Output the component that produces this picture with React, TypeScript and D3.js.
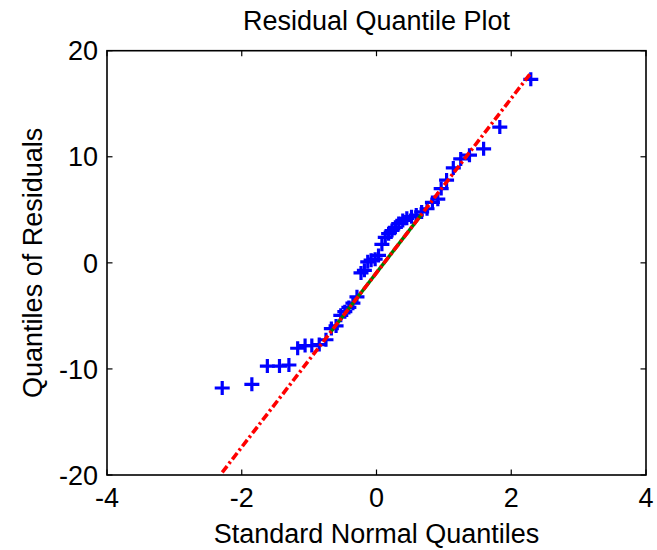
import React from "react";
import * as d3 from "d3";

// Standard normal quantiles (x) and residual quantiles (y)
const normalQuantiles = [
  -2.29, -1.85, -1.62, -1.44, -1.30, -1.17, -1.06, -0.96, -0.85, -0.75,
  -0.67, -0.60, -0.53, -0.47, -0.41, -0.35, -0.29, -0.23, -0.18, -0.13,
  -0.08, -0.02, 0.03, 0.08, 0.13, 0.18, 0.23, 0.28, 0.33, 0.39,
  0.45, 0.52, 0.59, 0.67, 0.75, 0.83, 0.91, 0.96, 1.04, 1.14,
  1.25, 1.38, 1.59, 1.83, 2.29,
];
const residualQuantiles = [
  -11.8, -11.45, -9.73, -9.73, -9.63, -8.05, -7.8, -7.8, -7.7, -7.25,
  -6.2, -5.95, -4.95, -4.6, -4.2, -3.8, -3.2, -0.95, -0.7, 0.1,
  0.25, 0.35, 0.7, 1.75, 2.4, 2.75, 3.05, 3.35, 3.7, 4.0,
  4.2, 4.35, 4.5, 4.8, 5.1, 5.7, 6.0, 7.0, 7.8, 8.95,
  9.8, 10.15, 10.75, 12.8, 17.3,
];
// Reference line through the first and third quartiles
const quartileX = [-0.674, 0.674];
const quartileY = [-6.47, 4.61];
const extendX = [-2.29, 2.29];

const xTicks = [-4, -2, 0, 2, 4];
const yTicks = [-20, -10, 0, 10, 20];

const W = 657;
const H = 550;
const left = 107;
const right = 646;
const top = 50.7;
const bottom = 475;
const FONT = "'Liberation Sans', Arial, Helvetica, sans-serif";
const FS = 27;

export default function App() {
  const x = d3.scaleLinear().domain([-4, 4]).range([left, right]);
  const y = d3.scaleLinear().domain([-20, 20]).range([bottom, top]);

  const slope = (quartileY[1] - quartileY[0]) / (quartileX[1] - quartileX[0]);
  const lineAt = (v: number) => quartileY[0] + slope * (v - quartileX[0]);
  const line = d3
    .line<number>()
    .x((d) => x(d))
    .y((d) => y(lineAt(d)));

  const tickLen = 5.5;

  return (
    <svg
      width={W}
      height={H}
      style={{ position: "absolute", left: 0, top: 0, background: "#fff" }}
      fontFamily={FONT}
    >
      <defs>
        <clipPath id="plotClip">
          <rect x={left} y={top} width={right - left} height={bottom - top} />
        </clipPath>
      </defs>
      <rect x={0} y={0} width={W} height={H} fill="#fff" />

      {/* ticks */}
      {xTicks.map((t) => (
        <g key={"xt" + t}>
          <line x1={x(t)} x2={x(t)} y1={bottom} y2={bottom - tickLen} stroke="#000" strokeWidth={1.2} />
          <line x1={x(t)} x2={x(t)} y1={top} y2={top + tickLen} stroke="#000" strokeWidth={1.2} />
          <text x={x(t)} y={507} textAnchor="middle" fontSize={FS} fill="#000">
            {t}
          </text>
        </g>
      ))}
      {yTicks.map((t) => (
        <g key={"yt" + t}>
          <line x1={left} x2={left + tickLen} y1={y(t)} y2={y(t)} stroke="#000" strokeWidth={1.2} />
          <line x1={right} x2={right - tickLen} y1={y(t)} y2={y(t)} stroke="#000" strokeWidth={1.2} />
          <text x={98} y={y(t) + FS * 0.36} textAnchor="end" fontSize={FS} fill="#000">
            {t}
          </text>
        </g>
      ))}

      <g clipPath="url(#plotClip)">
        {/* data markers */}
        {normalQuantiles.map((qx, i) => (
          <path
            key={"p" + i}
            transform={`translate(${x(qx)},${y(residualQuantiles[i])})`}
            d="M-7.5,0H7.5M0,-7V7"
            stroke="#0000ff"
            strokeWidth={3.2}
            fill="none"
          />
        ))}
        {/* solid quartile segment */}
        <path d={line(quartileX) || ""} stroke="#008000" strokeWidth={3.5} fill="none" />
        {/* extended dash-dot line */}
        <path
          d={line(extendX) || ""}
          stroke="#ff0000"
          strokeWidth={3.6}
          fill="none"
          strokeDasharray="8,3,2.5,3"
        />
      </g>

      {/* axes box */}
      <rect
        x={left}
        y={top}
        width={right - left}
        height={bottom - top}
        fill="none"
        stroke="#000"
        strokeWidth={1.6}
      />

      {/* title and labels */}
      <text x={(left + right) / 2} y={30} textAnchor="middle" fontSize={FS} fill="#000">
        Residual Quantile Plot
      </text>
      <text x={(left + right) / 2} y={543} textAnchor="middle" fontSize={FS} fill="#000">
        Standard Normal Quantiles
      </text>
      <text
        transform={`translate(42,${(top + bottom) / 2}) rotate(-90)`}
        textAnchor="middle"
        fontSize={FS}
        fill="#000"
      >
        Quantiles of Residuals
      </text>
    </svg>
  );
}
